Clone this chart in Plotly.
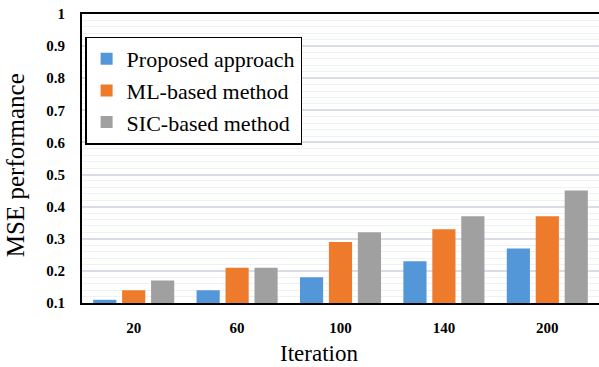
import plotly.graph_objects as go

# Iteration counts on the x axis
iterations = ["20", "60", "100", "140", "200"]

# MSE per method
proposed = [0.11, 0.14, 0.18, 0.23, 0.27]
ml_based = [0.14, 0.21, 0.29, 0.33, 0.37]
sic_based = [0.17, 0.21, 0.32, 0.37, 0.45]

series = [
    ("Proposed approach", proposed, "#5497D8"),
    ("ML-based method", ml_based, "#EE7A2C"),
    ("SIC-based method", sic_based, "#A0A0A0"),
]

fig = go.Figure()
for name, vals, color in series:
    fig.add_trace(go.Bar(
        x=iterations, y=vals, name=name, legendgroup=name,
        marker=dict(color=color, line=dict(width=0)),
        base=0,
    ))

serif = "Liberation Serif"

fig.update_layout(
    width=599, height=367,
    margin=dict(l=82, r=0, t=14, b=64),
    paper_bgcolor="white", plot_bgcolor="white",
    barmode="group", bargap=0.16, bargroupgap=0.2,
    font=dict(family=serif, color="black"),
    showlegend=True,
    legend=dict(
        x=0.006, y=0.922, xanchor="left", yanchor="top",
        bgcolor="white", bordercolor="black", borderwidth=1.5,
        font=dict(family=serif, size=22, color="black"),
        tracegroupgap=1, traceorder="normal",
    ),
    xaxis=dict(
        type="category",
        showline=True, linecolor="black", linewidth=2, mirror=True,
        showgrid=False, ticks="",
        tickfont=dict(family=serif, size=15, weight="bold"),
        ticklabelstandoff=10,
    ),
    yaxis=dict(
        range=[0.1, 1.0], dtick=0.1, tick0=0.1,
        showline=True, linecolor="black", linewidth=2,
        showgrid=True, gridcolor="#D9DEE6", gridwidth=1.5,
        minor=dict(dtick=0.02, showgrid=True, gridcolor="#EFF1F4", gridwidth=1),
        ticks="", zeroline=False,
        tickfont=dict(family=serif, size=15, weight="bold"),
        ticklabelstandoff=12,
    ),
    annotations=[
        dict(text="Iteration", xref="paper", yref="paper", x=0.458, y=-0.176,
             xanchor="center", yanchor="middle", showarrow=False,
             font=dict(family=serif, size=23, color="black")),
        dict(text="MSE performance", xref="paper", yref="paper", x=-0.127, y=0.478,
             xanchor="center", yanchor="middle", textangle=-90, showarrow=False,
             font=dict(family=serif, size=25, color="black")),
    ],
)

fig.write_html("out.html")
